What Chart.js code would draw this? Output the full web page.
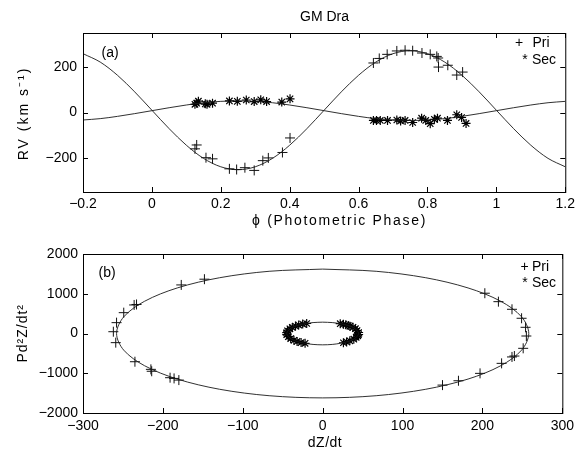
<!DOCTYPE html>
<html>
<head>
    <meta charset="utf-8"/>
    <title>GM Dra</title>
    <script src="https://cdn.jsdelivr.net/npm/chart.js"></script>
    <style>
        body {
            margin: 0;
            background-color: #ffffff;
        }

        .panel {
            position: absolute;
            left: 0;
            width: 579px;
        }

        #panelA { top: 0; height: 230px; }
        #panelB { top: 230px; height: 226px; }

        canvas { display: block; }
    </style>
</head>
<body>
    <div class="panel" id="panelA"><canvas id="rvChart" width="579" height="230"></canvas></div>
    <div class="panel" id="panelB"><canvas id="orbitChart" width="579" height="226"></canvas></div>

    <script>
        // ---- (a) radial velocities vs photometric phase ----
        const phaseTicks = [-0.2, 0, 0.2, 0.4, 0.6, 0.8, 1, 1.2];
        const phaseTickLabels = ['−0.2', '0', '0.2', '0.4', '0.6', '0.8', '1', '1.2'];
        const rvTicks = [-200, 0, 200];
        const rvTickLabels = ['−200', '0', '200'];

        const modelPhase = [-0.2, -0.15, -0.1, -0.05, 0, 0.05, 0.1, 0.15, 0.2, 0.25, 0.3, 0.35, 0.4, 0.45,
            0.5, 0.55, 0.6, 0.65, 0.7, 0.75, 0.8, 0.85, 0.9, 0.95, 1, 1.05, 1.1, 1.15, 1.2];
        const priModel = [259, 222, 164, 91, 10, -71, -144, -202, -239, -252, -239, -202, -144, -71,
            10, 91, 164, 222, 259, 272, 259, 222, 164, 91, 10, -71, -144, -202, -239];
        const secModel = [-33, -27, -17, -5, 8, 21, 33, 43, 49, 51, 49, 43, 33, 21,
            8, -5, -17, -27, -33, -35, -33, -27, -17, -5, 8, 21, 33, 43, 49];

        // observed points
        const priPhase = [0.125, 0.130, 0.157, 0.176, 0.225, 0.246, 0.270, 0.297, 0.322, 0.338, 0.379, 0.401,
            0.643, 0.660, 0.683, 0.711, 0.735, 0.757, 0.784, 0.808, 0.827, 0.831, 0.832, 0.859, 0.885, 0.902];
        const priRV = [-160, -143, -199, -204, -248, -251, -243, -255, -212, -200, -176, -112,
            218, 238, 256, 271, 274, 272, 262, 256, 247, 240, 200, 208, 165, 178];
        const secPhase = [0.125, 0.130, 0.135, 0.155, 0.160, 0.176, 0.225, 0.248, 0.274, 0.297, 0.316, 0.333, 0.377, 0.401,
            0.643, 0.652, 0.663, 0.684, 0.711, 0.722, 0.735, 0.757, 0.783, 0.795, 0.808, 0.820, 0.829, 0.858, 0.885, 0.899, 0.912];
        const secRV = [36, 41, 50, 38, 36, 41, 51, 49, 55, 48, 56, 48, 46, 60,
            -35, -35, -35, -35, -33, -37, -35, -44, -25, -35, -49, -30, -25, -35, -10, -22, -48];

        // ---- (b) dZ/dt vs P d2Z/dt2 ----
        const dzTicks = [-300, -200, -100, 0, 100, 200, 300];
        const dzTickLabels = ['−300', '−200', '−100', '0', '100', '200', '300'];
        const d2zTicks = [-2000, -1000, 0, 1000, 2000];
        const d2zTickLabels = ['−2000', '−1000', '0', '1000', '2000'];

        const priOrbitDZ = [0, -67, -129, -182, -223, -249, -258, -249, -223, -182, -129, -67,
            0, 67, 129, 182, 223, 249, 258, 249, 223, 182, 129, 67, 0];
        const priOrbitD2Z = [1620, 1565, 1403, 1146, 810, 419, 0, -419, -810, -1146, -1403, -1565,
            -1620, -1565, -1403, -1146, -810, -419, 0, 419, 810, 1146, 1403, 1565, 1620];
        const secOrbitDZ = [0, -12, -22, -32, -39, -43, -45, -43, -39, -32, -22, -12,
            0, 12, 22, 32, 39, 43, 45, 43, 39, 32, 22, 12, 0];
        const secOrbitD2Z = [285, 275, 247, 202, 143, 74, 0, -74, -143, -202, -247, -275,
            -285, -275, -247, -202, -143, -74, 0, 74, 143, 202, 247, 275, 285];

        const priObsDZ = [-177, -148, -236, -233, -249, -258, -262, -259, -235, -215, -214, -191, -186, -180,
            203, 220, 237, 249, 254, 255, 251, 240, 237, 224, 197, 170, 150];
        const priObsD2Z = [1222, 1366, 718, 730, 524, 273, 45, -230, -710, -902, -950, -1112, -1130, -1172,
            1013, 801, 609, 383, 156, -63, -373, -567, -590, -751, -1003, -1189, -1298];
        const secObsDZ = [22, 26, 29, 32, 34, 38, 41, 43, 45, 45, 44, 42, 39, 34, 30, 26,
            -20, -25, -30, -34, -38, -41, -44, -45, -45, -43, -40, -36, -32, -27, -22];
        const secObsD2Z = [247, 233, 218, 202, 183, 155, 120, 74, 25, -25, -59, -97, -143, -183, -212, -233,
            252, 237, 212, 187, 152, 117, 68, 20, -30, -80, -128, -171, -200, -228, -247];

        const FONT = "'Liberation Sans', Arial, sans-serif";
        Chart.defaults.font.family = FONT;
        Chart.defaults.font.size = 14;
        Chart.defaults.color = '#000';

        function pairs(xs, ys) {
            return xs.map((x, i) => ({x: x, y: ys[i]}));
        }

        // box, inward ticks and free text
        const frameText = {
            id: 'frameText',
            afterDatasetsDraw(chart, args, opts) {
                const ctx = chart.ctx;
                const a = chart.chartArea;
                const xs = chart.scales.x, ys = chart.scales.y;
                ctx.save();
                ctx.strokeStyle = '#000';
                ctx.lineWidth = 1;
                ctx.strokeRect(a.left + 0.5, a.top + 0.5, a.right - a.left, a.bottom - a.top);
                ctx.beginPath();
                xs.ticks.forEach(t => {
                    const p = Math.round(xs.getPixelForValue(t.value)) + 0.5;
                    ctx.moveTo(p, a.bottom); ctx.lineTo(p, a.bottom - 5);
                    ctx.moveTo(p, a.top); ctx.lineTo(p, a.top + 5);
                });
                ys.ticks.forEach(t => {
                    const p = Math.round(ys.getPixelForValue(t.value)) + 0.5;
                    ctx.moveTo(a.left, p); ctx.lineTo(a.left + 5, p);
                    ctx.moveTo(a.right, p); ctx.lineTo(a.right - 5, p);
                });
                ctx.stroke();
                ctx.fillStyle = '#000';
                ctx.textBaseline = 'middle';
                (opts.labels || []).forEach(l => {
                    ctx.save();
                    ctx.font = (l.size || 14) + 'px ' + FONT;
                    ctx.letterSpacing = l.spacing || '0px';
                    ctx.textAlign = l.align || 'left';
                    ctx.translate(l.x, l.y);
                    if (l.rotate) ctx.rotate(l.rotate * Math.PI / 180);
                    ctx.fillText(l.text, 0, 0);
                    ctx.restore();
                });
                ctx.restore();
            }
        };

        function makeOptions(o) {
            return {
                responsive: false,
                animation: false,
                events: [],
                layout: {padding: {left: 0, right: 13, top: o.padTop, bottom: 0}},
                plugins: {
                    legend: {display: false},
                    tooltip: {enabled: false},
                    frameText: {labels: o.labels}
                },
                scales: {
                    x: {
                        type: 'linear',
                        min: o.xMin, max: o.xMax,
                        grid: {display: false, drawTicks: false},
                        border: {display: false},
                        afterBuildTicks: s => { s.ticks = o.xTicks.map(v => ({value: v})); },
                        afterFit: s => { s.height = o.xHeight; },
                        ticks: {
                            autoSkip: false, maxRotation: 0, padding: o.xPad,
                            callback: (v, i) => o.xTickLabels[i]
                        }
                    },
                    y: {
                        type: 'linear',
                        min: o.yMin, max: o.yMax,
                        grid: {display: false, drawTicks: false},
                        border: {display: false},
                        afterBuildTicks: s => { s.ticks = o.yTicks.map(v => ({value: v})); },
                        afterFit: s => { s.width = 83; },
                        ticks: {
                            autoSkip: false, padding: o.yPad,
                            callback: (v, i) => o.yTickLabels[i]
                        }
                    }
                }
            };
        }

        const lineStyle = {showLine: true, pointRadius: 0, borderColor: '#1a1a1a', borderWidth: 0.9, tension: 0.33, fill: false};
        const priStyle = {showLine: false, pointStyle: 'cross', pointRadius: 5, borderColor: '#111', borderWidth: 1};
        const secStyle = {showLine: false, pointStyle: 'star', pointRadius: 4.5, borderColor: '#000', borderWidth: 1.2};

        new Chart(document.getElementById('rvChart'), {
            type: 'scatter',
            data: {
                datasets: [
                    Object.assign({label: 'Pri fit', data: pairs(modelPhase, priModel)}, lineStyle),
                    Object.assign({label: 'Sec fit', data: pairs(modelPhase, secModel)}, lineStyle),
                    Object.assign({label: 'Pri', data: pairs(priPhase, priRV)}, priStyle),
                    Object.assign({label: 'Sec', data: pairs(secPhase, secRV)}, secStyle)
                ]
            },
            options: makeOptions({
                padTop: 33, xHeight: 38, xPad: 4, yPad: 6,
                xMin: -0.2, xMax: 1.2, xTicks: phaseTicks, xTickLabels: phaseTickLabels,
                yMin: -350, yMax: 350, yTicks: rvTicks, yTickLabels: rvTickLabels,
                labels: [
                    {text: 'GM Dra', x: 324.5, y: 17, align: 'center'},
                    {text: '(a)', x: 101.5, y: 53.5},
                    {text: '+', x: 519, y: 43.5, align: 'center'},
                    {text: 'Pri', x: 532.5, y: 43.5},
                    {text: '*', x: 525, y: 60, align: 'center'},
                    {text: 'Sec', x: 532, y: 60},
                    {text: 'ϕ (Photometric Phase)', x: 252, y: 221, spacing: '1.7px'},
                    {text: 'RV (km s⁻¹)', x: 24, y: 113.5, align: 'center', rotate: -90, spacing: '2px'}
                ]
            }),
            plugins: [frameText]
        });

        new Chart(document.getElementById('orbitChart'), {
            type: 'scatter',
            data: {
                datasets: [
                    Object.assign({label: 'Pri orbit', data: pairs(priOrbitDZ, priOrbitD2Z)}, lineStyle),
                    Object.assign({label: 'Sec orbit', data: pairs(secOrbitDZ, secOrbitD2Z)}, lineStyle),
                    Object.assign({label: 'Pri', data: pairs(priObsDZ, priObsD2Z)}, priStyle),
                    Object.assign({label: 'Sec', data: pairs(secObsDZ, secObsD2Z)}, secStyle)
                ]
            },
            options: makeOptions({
                padTop: 24, xHeight: 43, xPad: 5, yPad: 5,
                xMin: -300, xMax: 300, xTicks: dzTicks, xTickLabels: dzTickLabels,
                yMin: -2000, yMax: 2000, yTicks: d2zTicks, yTickLabels: d2zTickLabels,
                labels: [
                    {text: '(b)', x: 98.5, y: 43},
                    {text: '+', x: 524.5, y: 36.7, align: 'center'},
                    {text: 'Pri', x: 532, y: 36.7},
                    {text: '*', x: 525, y: 53, align: 'center'},
                    {text: 'Sec', x: 532, y: 53},
                    {text: 'dZ/dt', x: 325, y: 213, align: 'center', spacing: '0.5px'},
                    {text: 'Pd²Z/dt²', x: 23, y: 103.3, align: 'center', rotate: -90, spacing: '1px'}
                ]
            }),
            plugins: [frameText]
        });
    </script>
</body>
</html>
